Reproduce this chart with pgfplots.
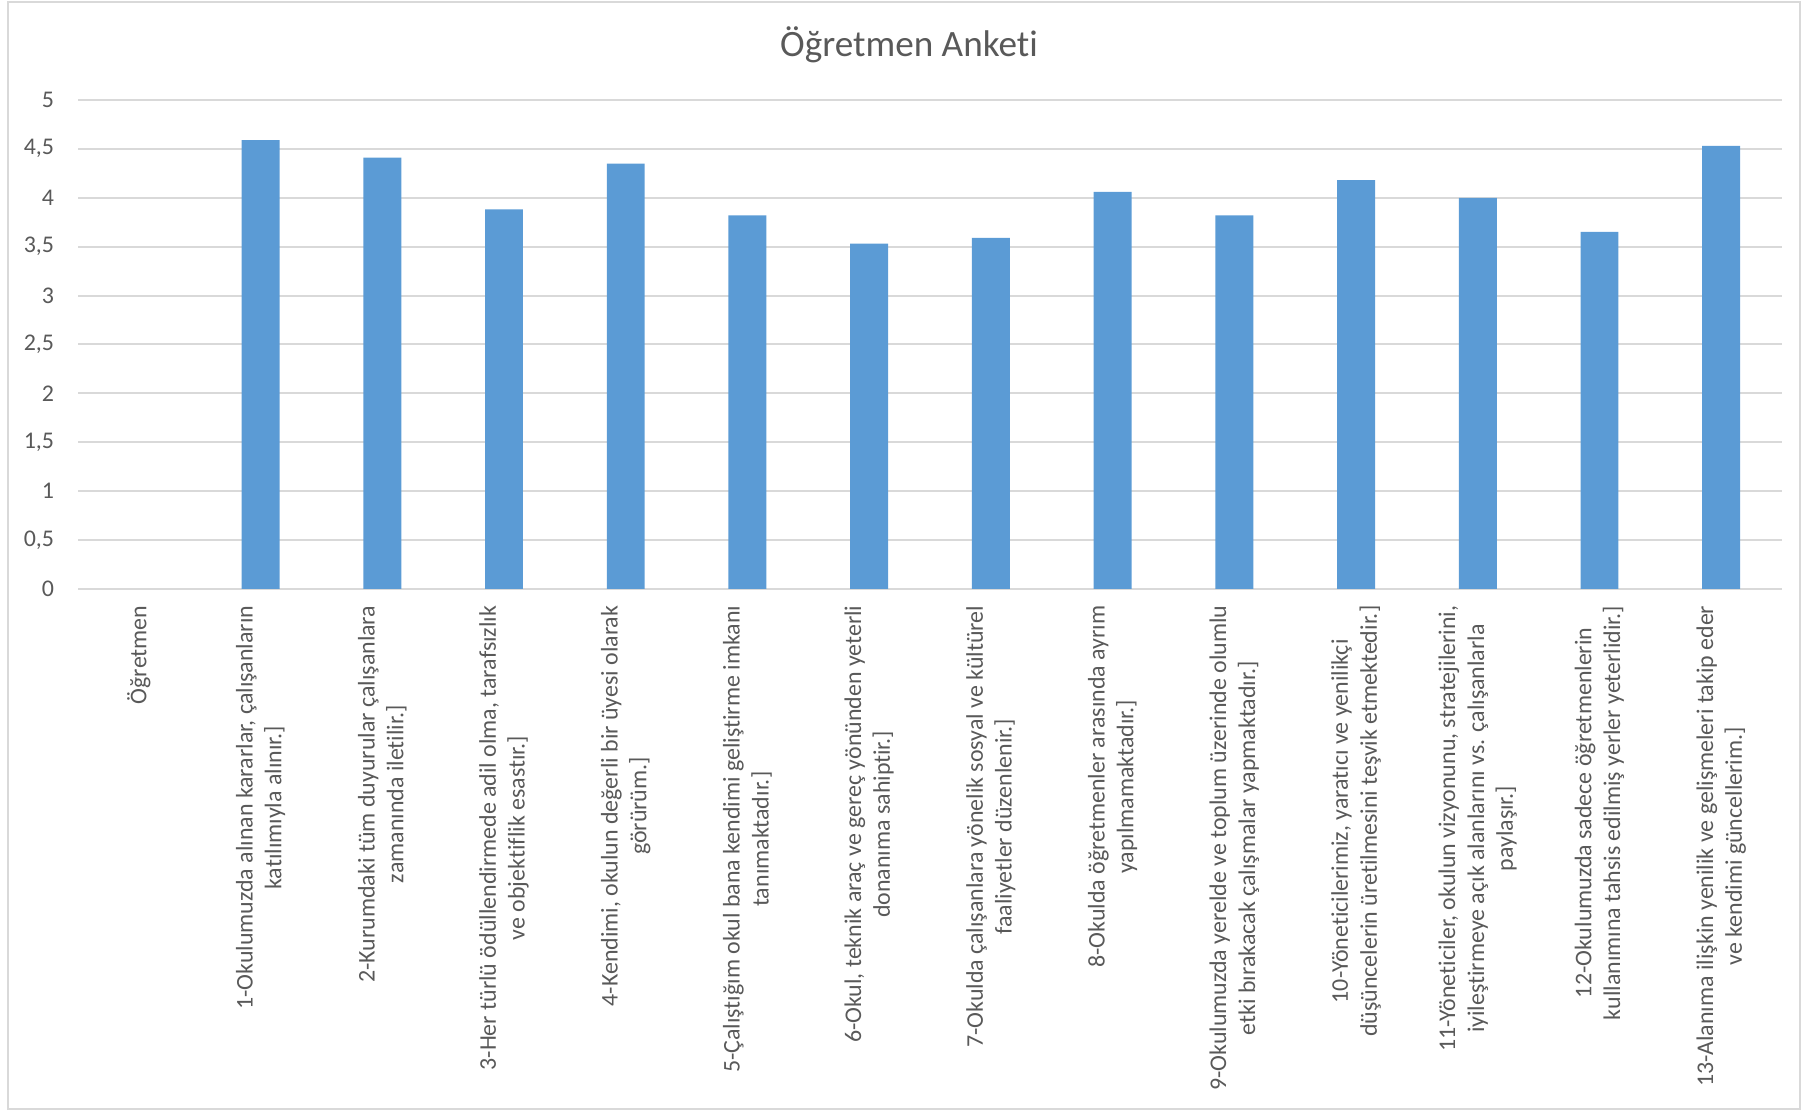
\documentclass[border=0pt]{standalone}
\usepackage{fontspec}
\setmainfont{Carlito}[Ligatures=NoCommon]
\usepackage{pgfplots}
\pgfplotsset{compat=1.18}
\definecolor{barblue}{HTML}{5B9BD5}
\definecolor{txtgray}{HTML}{595959}
\definecolor{gridgray}{HTML}{D9D9D9}
\begin{document}
\begin{tikzpicture}
\useasboundingbox (0pt,0pt) rectangle (695pt,427.3pt);
\draw[gridgray, line width=0.75pt] (3.1pt,0.8pt) rectangle (692.3pt,426.5pt);
\node[text=txtgray, font=\fontsize{14.3}{17}\selectfont] at (349.6pt,410pt) {Öğretmen Anketi};
\begin{axis}[
  at={(30pt,200.76pt)}, anchor=south west,
  scale only axis, width=655.4pt, height=188.1pt,
  xmin=-0.5, xmax=13.5, ymin=0, ymax=5,
  ytick={0,0.5,1,1.5,2,2.5,3,3.5,4,4.5,5},
  xtick={0,1,2,3,4,5,6,7,8,9,10,11,12,13},
  xticklabels={
    {Öğretmen},
    {1-Okulumuzda alınan kararlar, çalışanların\\katılımıyla alınır.]},
    {2-Kurumdaki tüm duyurular çalışanlara\\zamanında iletilir.]},
    {3-Her türlü ödüllendirmede adil olma, tarafsızlık\\ve objektiflik esastır.]},
    {4-Kendimi, okulun değerli bir üyesi olarak\\görürüm.]},
    {5-Çalıştığım okul bana kendimi geliştirme imkanı\\tanımaktadır.]},
    {6-Okul, teknik araç ve gereç yönünden yeterli\\donanıma sahiptir.]},
    {7-Okulda çalışanlara yönelik sosyal ve kültürel\\faaliyetler düzenlenir.]},
    {8-Okulda öğretmenler arasında ayrım\\yapılmamaktadır.]},
    {9-Okulumuzda yerelde ve toplum üzerinde olumlu\\etki bırakacak çalışmalar yapmaktadır.]},
    {10-Yöneticilerimiz, yaratıcı ve yenilikçi\\düşüncelerin üretilmesini teşvik etmektedir.]},
    {11-Yöneticiler, okulun vizyonunu, stratejilerini,\\iyileştirmeye açık alanlarını vs. çalışanlarla\\paylaşır.]},
    {12-Okulumuzda sadece öğretmenlerin\\kullanımına tahsis edilmiş yerler yeterlidir.]},
    {13-Alanıma ilişkin yenilik ve gelişmeleri takip eder\\ve kendimi güncellerim.]}
  },
  ymajorgrids,
  grid style={gridgray, line width=0.75pt},
  axis line style={draw=none},
  major tick length=0pt,
  /pgf/number format/assume math mode=true,
  /pgf/number format/use comma,
  /pgf/number format/1000 sep={},
  tick label style={font=\fontsize{9.2}{11.1}\selectfont, text=txtgray},
  yticklabel style={anchor=east, inner xsep=9pt, inner ysep=0pt},
  xticklabel style={rotate=90, anchor=east, align=center, inner xsep=6.2pt, inner ysep=0pt},
]
\addplot[ybar, bar width=14.6pt, fill=barblue, draw=none] coordinates {
  (1,4.59) (2,4.41) (3,3.88) (4,4.35) (5,3.82) (6,3.53) (7,3.59)
  (8,4.06) (9,3.82) (10,4.18) (11,4.00) (12,3.65) (13,4.53)
};
\end{axis}
\end{tikzpicture}
\end{document}
